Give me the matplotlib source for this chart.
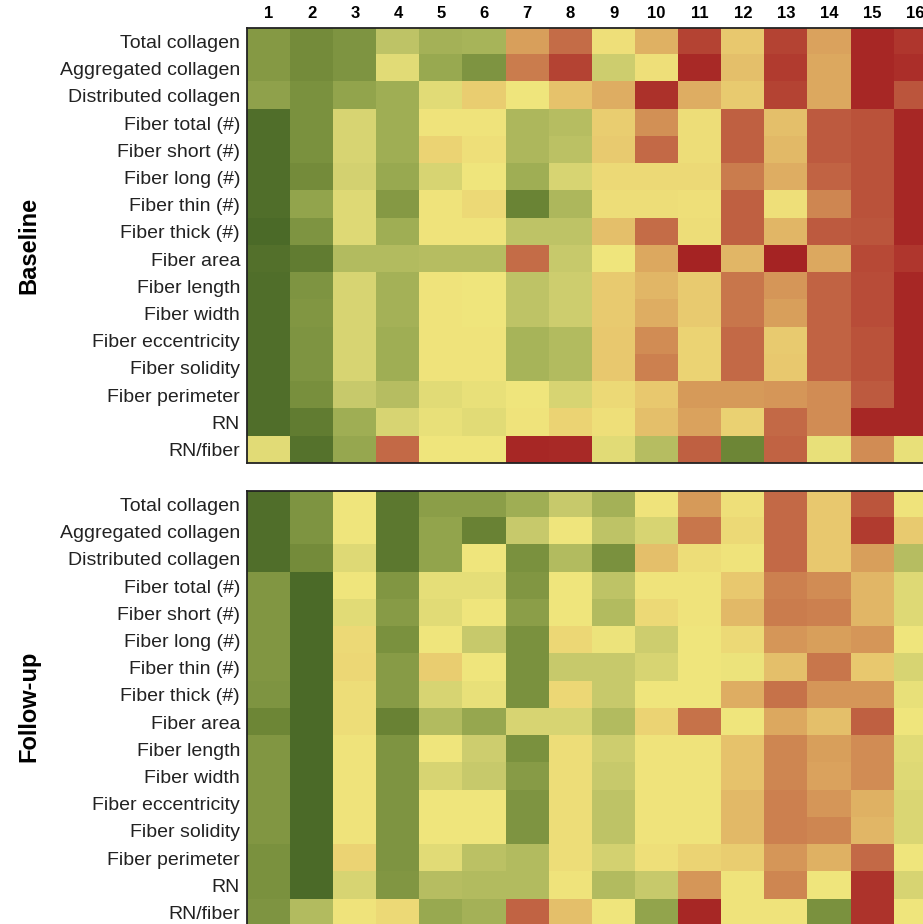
import numpy as np
import matplotlib.pyplot as plt
from matplotlib.colors import LinearSegmentedColormap

plt.rcParams['font.family'] = ['Liberation Sans', 'DejaVu Sans']

# 行ラベルと列ラベル
features = ['Total collagen', 'Aggregated collagen', 'Distributed collagen',
            'Fiber total (#)', 'Fiber short (#)', 'Fiber long (#)',
            'Fiber thin (#)', 'Fiber thick (#)', 'Fiber area', 'Fiber length',
            'Fiber width', 'Fiber eccentricity', 'Fiber solidity',
            'Fiber perimeter', 'RN', 'RN/fiber']
samples = [str(i) for i in range(1, 17)]

# ベースライン (0 = 緑, 5 = 黄, 10 = 赤)
baseline = [
    [2.2, 1.7, 2.0, 3.7, 3.1, 3.2, 6.9, 7.9, 5.2, 6.5, 8.8, 6.0, 8.8, 6.8, 9.8, 9.2],
    [2.2, 1.7, 2.0, 4.6, 2.8, 2.0, 7.6, 8.8, 4.0, 5.2, 9.7, 6.2, 9.0, 6.7, 9.8, 9.5],
    [2.5, 1.9, 2.6, 3.0, 4.6, 5.8, 5.0, 6.1, 6.6, 9.4, 6.6, 5.9, 8.8, 6.7, 9.8, 8.4],
    [0.3, 1.9, 4.3, 3.0, 5.1, 5.1, 3.3, 3.5, 5.8, 7.2, 5.3, 8.2, 6.2, 8.3, 8.5, 9.8],
    [0.3, 1.9, 4.3, 3.0, 5.6, 5.2, 3.3, 3.6, 5.9, 8.0, 5.3, 8.2, 6.3, 8.3, 8.5, 9.8],
    [0.3, 1.7, 4.2, 2.8, 4.3, 5.0, 3.0, 4.3, 5.4, 5.4, 5.4, 7.6, 6.6, 8.1, 8.5, 9.8],
    [0.3, 2.6, 4.5, 2.2, 5.1, 5.4, 1.4, 3.3, 5.3, 5.3, 5.2, 8.2, 5.2, 7.4, 8.5, 9.8],
    [0.1, 2.0, 4.5, 3.0, 5.1, 5.1, 3.7, 3.7, 6.2, 7.9, 5.3, 8.2, 6.4, 8.3, 8.4, 9.8],
    [0.4, 1.0, 3.4, 3.4, 3.5, 3.5, 7.9, 3.9, 5.0, 6.7, 10.0, 6.4, 10.0, 6.7, 8.7, 9.2],
    [0.3, 2.0, 4.3, 3.1, 5.1, 5.0, 3.7, 4.0, 5.9, 6.4, 5.9, 7.7, 7.1, 8.1, 8.6, 9.8],
    [0.3, 2.1, 4.3, 3.1, 5.1, 5.0, 3.7, 4.0, 5.9, 6.6, 5.9, 7.7, 6.9, 8.1, 8.6, 9.8],
    [0.3, 2.0, 4.3, 3.0, 5.1, 5.1, 3.2, 3.4, 6.0, 7.3, 5.6, 8.0, 5.9, 8.1, 8.5, 9.8],
    [0.3, 2.0, 4.3, 3.0, 5.1, 5.1, 3.2, 3.4, 6.0, 7.5, 5.6, 8.0, 6.0, 8.1, 8.5, 9.8],
    [0.3, 1.8, 3.9, 3.5, 4.6, 4.8, 5.0, 4.3, 5.4, 6.0, 7.0, 7.0, 7.1, 7.3, 8.3, 9.8],
    [0.3, 1.0, 3.0, 4.3, 4.8, 4.6, 5.1, 5.6, 5.2, 6.2, 6.8, 5.7, 8.0, 7.3, 9.8, 9.8],
    [4.6, 0.5, 2.7, 8.0, 5.0, 5.0, 9.8, 9.7, 4.6, 3.5, 8.2, 1.5, 8.1, 4.8, 7.3, 4.8],
]

# フォローアップ
followup = [
    [0.3, 2.0, 5.0, 0.8, 2.4, 2.4, 3.0, 3.9, 3.1, 5.1, 7.0, 5.2, 8.0, 6.0, 8.4, 5.1],
    [0.3, 2.0, 5.0, 0.8, 2.6, 1.3, 3.9, 5.0, 3.7, 4.3, 7.7, 5.4, 8.0, 6.0, 9.0, 5.9],
    [0.3, 1.7, 4.5, 0.8, 2.6, 5.0, 1.9, 3.4, 1.9, 6.2, 5.3, 5.1, 8.0, 6.0, 6.9, 3.5],
    [2.1, 0.1, 5.0, 2.1, 4.7, 4.7, 2.1, 5.0, 3.7, 5.1, 5.1, 6.0, 7.5, 7.3, 6.4, 4.5],
    [2.1, 0.1, 4.6, 2.3, 4.6, 5.0, 2.4, 5.0, 3.4, 5.4, 5.1, 6.3, 7.6, 7.5, 6.4, 4.5],
    [2.1, 0.1, 5.4, 1.9, 5.0, 3.9, 1.9, 5.5, 4.9, 4.0, 5.0, 5.4, 7.1, 6.9, 7.1, 5.0],
    [2.1, 0.1, 5.5, 2.3, 5.8, 5.0, 1.9, 3.9, 3.9, 4.3, 5.0, 4.9, 6.2, 7.7, 6.0, 4.3],
    [2.0, 0.1, 5.3, 2.3, 4.3, 4.8, 1.9, 5.5, 3.9, 5.0, 5.0, 6.6, 7.8, 7.1, 7.1, 4.8],
    [1.5, 0.1, 5.3, 1.3, 3.4, 2.7, 4.3, 4.3, 3.4, 5.6, 7.8, 5.0, 6.7, 6.2, 8.2, 5.0],
    [2.1, 0.1, 5.1, 2.0, 5.0, 4.0, 1.9, 5.3, 4.0, 5.1, 5.1, 6.1, 7.4, 6.9, 7.3, 4.6],
    [2.1, 0.1, 5.1, 2.0, 4.3, 3.9, 2.3, 5.3, 3.9, 5.1, 5.1, 6.1, 7.4, 6.8, 7.3, 4.5],
    [2.1, 0.1, 5.1, 2.0, 5.0, 5.0, 2.0, 5.3, 3.7, 5.1, 5.1, 6.3, 7.5, 7.1, 6.5, 4.4],
    [2.1, 0.1, 5.1, 2.0, 5.0, 5.0, 2.0, 5.3, 3.7, 5.1, 5.1, 6.3, 7.5, 7.4, 6.4, 4.4],
    [1.9, 0.1, 5.6, 2.0, 4.6, 3.6, 3.4, 5.3, 4.2, 5.2, 5.6, 5.8, 7.1, 6.5, 8.0, 5.0],
    [1.9, 0.1, 4.3, 2.1, 3.5, 3.4, 3.4, 5.1, 3.4, 3.9, 7.1, 5.1, 7.4, 5.0, 9.3, 4.3],
    [2.0, 3.4, 5.1, 5.4, 2.8, 3.1, 8.1, 6.2, 5.0, 2.6, 9.8, 5.1, 5.1, 1.9, 9.3, 5.0],
]

# 緑-黄-赤のカラーマップ
cmap = LinearSegmentedColormap.from_list('gyr', [
    (0.00, '#4a6928'), (0.15, '#6e8737'), (0.30, '#a0af55'),
    (0.40, '#cdcd6e'), (0.50, '#f0e67d'), (0.60, '#e8c86e'),
    (0.70, '#d79b5a'), (0.80, '#c36946'), (0.90, '#b23c30'),
    (1.00, '#a52323')])

fig = plt.figure(figsize=(9.23, 9.24), dpi=100)
# 右端の列は図の外にはみ出す
ax_base = fig.add_axes([0.2676, 0.4989, 0.7475, 0.4708])
ax_fol = fig.add_axes([0.2676, -0.0022, 0.7475, 0.4708])

for ax, data in [(ax_base, baseline), (ax_fol, followup)]:
    ax.imshow(np.array(data), cmap=cmap, vmin=0, vmax=10,
              aspect='auto', interpolation='nearest')
    ax.set_yticks(range(len(features)))
    ax.set_yticklabels(features, fontsize=14, color='#222222')
    ax.tick_params(length=0, pad=5)
    for s in ax.spines.values():
        s.set_linewidth(1.3)
        s.set_color('#222222')

# 列番号は上のパネルだけ
ax_base.xaxis.tick_top()
ax_base.set_xticks(range(len(samples)))
ax_base.set_xticklabels(samples, fontsize=12, fontweight='bold')
ax_fol.set_xticks([])

fig.text(0.031, 0.734, 'Baseline', rotation=90, fontsize=17,
         fontweight='bold', ha='center', va='center')
fig.text(0.031, 0.236, 'Follow-up', rotation=90, fontsize=17,
         fontweight='bold', ha='center', va='center')

fig.savefig('out.png', dpi=100)
